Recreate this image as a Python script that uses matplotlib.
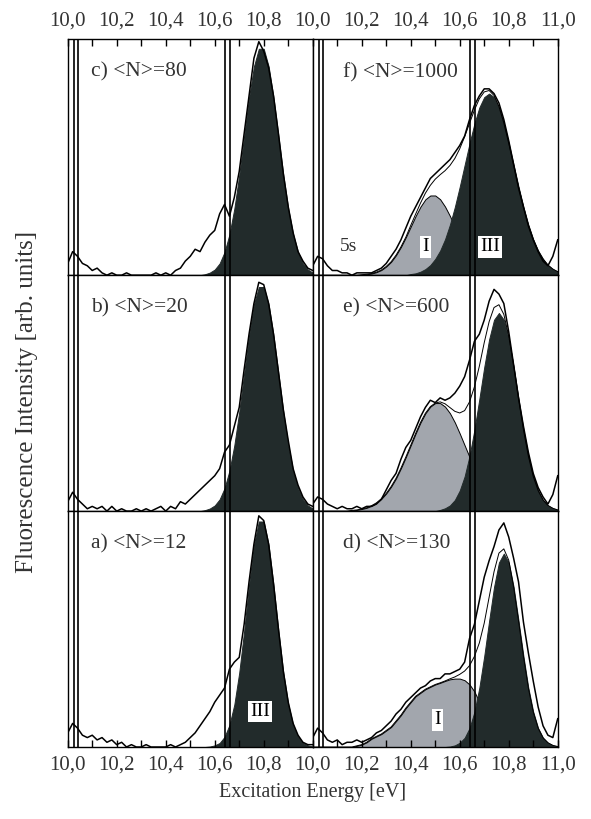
import matplotlib
matplotlib.use("Agg")
import matplotlib.pyplot as plt

plt.rcParams['font.family'] = ['Liberation Serif', 'DejaVu Serif']

# excitation energy grid [eV]
energy = [10.00, 10.02, 10.04, 10.06, 10.08, 10.10, 10.12, 10.14, 10.16, 10.18,
          10.20, 10.22, 10.24, 10.26, 10.28, 10.30, 10.32, 10.34, 10.36, 10.38,
          10.40, 10.42, 10.44, 10.46, 10.48, 10.50, 10.52, 10.54, 10.56, 10.58,
          10.60, 10.62, 10.64, 10.66, 10.68, 10.70, 10.72, 10.74, 10.76, 10.78,
          10.80, 10.82, 10.84, 10.86, 10.88, 10.90, 10.92, 10.94, 10.96, 10.98, 11.00]

# narrow atomic lines (left edge, right edge) [eV]
spikes = [(10.024, 10.040), (10.642, 10.663)]

# left column: <N> = 80, 20, 12
c_meas = [.05, .10, .08, .05, .04, .02, .03, .01, .00, .01,
          .00, .00, .01, .00, .00, .00, .00, .00, .01, .00,
          .01, .00, .02, .03, .06, .08, .11, .10, .14, .17,
          .19, .26, .30, .25, .33, .44, .60, .76, .92, .99,
          .95, .88, .76, .60, .43, .29, .18, .10, .06, .03, .02]
c_III = [0] * 28 + [.004, .011, .024, .050, .098, .173, .282, .424, .589, .752, .885, .960,
                    .960, .885, .752, .589, .424, .282, .173, .098, .050, .024, .011]

b_meas = [.04, .08, .05, .03, .01, .02, .01, .02, .00, .02,
          .00, .01, .00, .00, .01, .00, .01, .00, .01, .02,
          .00, .02, .01, .04, .03, .05, .07, .09, .11, .13,
          .15, .18, .25, .28, .36, .44, .60, .75, .88, .97,
          .96, .88, .75, .59, .43, .30, .18, .11, .06, .03, .02]
b_III = [0] * 28 + [.004, .011, .024, .050, .097, .171, .279, .420, .583, .744, .876, .950,
                    .950, .876, .744, .583, .420, .279, .171, .097, .050, .024, .011]

a_meas = [.06, .10, .08, .05, .04, .05, .03, .04, .02, .03,
          .01, .02, .00, .01, .00, .00, .01, .00, .00, .00,
          .00, .01, .00, .01, .02, .04, .06, .09, .12, .15,
          .19, .22, .25, .33, .36, .38, .52, .70, .86, .98,
          .96, .86, .69, .50, .32, .19, .10, .05, .02, .01, .01]
a_III = [0] * 29 + [.002, .007, .017, .043, .093, .180, .315, .491, .686, .856, .956,
                    .956, .856, .686, .491, .315, .180, .093, .043, .017, .007, .002]

# right column: <N> = 1000, 600, 130
f_meas = [.04, .08, .07, .04, .02, .02, .01, .01, .00, .01,
          .01, .01, .01, .02, .03, .05, .08, .11, .15, .20,
          .25, .29, .33, .37, .41, .43, .45, .47, .49, .52,
          .55, .59, .66, .72, .76, .79, .79, .77, .73, .66,
          .57, .47, .37, .29, .21, .15, .10, .06, .04, .08, .15]
f_I = [0] * 10 + [.002, .004, .007, .013, .022, .037, .057, .085, .120, .161,
                  .206, .251, .291, .322, .338, .338, .322, .291, .251, .206,
                  .161, .120, .085, .057, .037, .022, .013, .007, .004, .002] + [0] * 11
f_III = [0] * 20 + [.005, .008, .015, .026, .043, .069, .104, .152, .214, .289,
                    .375, .467, .559, .643, .711, .755, .770, .755, .711, .643,
                    .559, .467, .375, .289, .214, .152, .104, .069, .043, .026, .015]

e_meas = [.03, .06, .05, .03, .02, .01, .02, .01, .01, .02,
          .01, .02, .02, .03, .05, .09, .13, .16, .22, .27,
          .30, .35, .40, .44, .47, .46, .48, .47, .48, .50,
          .53, .57, .64, .72, .75, .81, .89, .94, .92, .88,
          .76, .62, .48, .36, .25, .16, .10, .06, .03, .07, .15]
e_I = [0] * 8 + [.003, .005, .009, .014, .023, .035, .052, .075, .104, .139,
                 .182, .229, .279, .329, .376, .415, .443, .458, .458, .443,
                 .415, .376, .329, .279, .229, .182, .139, .104, .075, .052,
                 .035, .023, .014, .009, .005] + [0] * 8
e_III = [0] * 26 + [.005, .012, .024, .047, .087, .147, .234, .345, .475, .610,
                    .728, .811, .840, .811, .728, .610, .475, .345, .234, .147,
                    .087, .047, .024, .012, .005]

d_meas = [.04, .08, .06, .03, .02, .03, .01, .02, .02, .03,
          .02, .03, .04, .06, .07, .09, .11, .14, .16, .19,
          .21, .23, .25, .26, .28, .29, .29, .31, .31, .32,
          .33, .36, .46, .52, .62, .72, .79, .85, .92, .95,
          .89, .80, .70, .53, .40, .28, .17, .09, .05, .04, .12]
d_I = [0] * 9 + [.005, .01, .02, .035, .045, .055, .07, .085, .11, .135, .165,
                 .19, .215, .23, .245, .255, .265, .272, .28, .287, .29,
                 .29, .283, .265, .235, .19, .14, .10, .065, .04, .02, .01] + [0] * 10
d_III = [0] * 28 + [.002, .007, .018, .039, .080, .149, .251, .385, .535, .678, .782, .820,
                    .782, .678, .535, .385, .251, .149, .080, .039, .018, .007, .002]

titles = [["c) <N>=80", "f) <N>=1000"],
          ["b) <N>=20", "e) <N>=600"],
          ["a) <N>=12", "d) <N>=130"]]
measured = [[c_meas, f_meas], [b_meas, e_meas], [a_meas, d_meas]]
band_I = [[None, f_I], [None, e_I], [None, d_I]]
band_III = [[c_III, f_III], [b_III, e_III], [a_III, d_III]]

ticks_left = [10.0, 10.2, 10.4, 10.6, 10.8]
labels_left = ['10,0', '10,2', '10,4', '10,6', '10,8']
ticks_right = ticks_left + [11.0]
labels_right = labels_left + ['11,0']
minor_ticks = [10.1, 10.3, 10.5, 10.7, 10.9]

dark = '#222b2b'
grey = '#a2a6ad'
txt = '#333333'

fig, axes = plt.subplots(3, 2, figsize=(5.91, 8.19), dpi=100)
fig.subplots_adjust(left=0.1146, right=0.9437, top=0.952, bottom=0.0879,
                    wspace=0, hspace=0)

for r in range(3):
    for c in range(2):
        ax = axes[r][c]
        comp1 = band_I[r][c]
        comp3 = band_III[r][c]
        if comp1 is not None:
            ax.fill_between(energy, 0, comp1, facecolor=grey, edgecolor='black', lw=0.7)
        ax.fill_between(energy, 0, comp3, facecolor=dark, edgecolor=dark, lw=0.7)
        if comp1 is not None:
            fit = [p + q for p, q in zip(comp1, comp3)]
            ax.plot(energy, fit, color='black', lw=0.7)
        ax.plot(energy, measured[r][c], color='black', lw=1.1)
        for lo, hi in spikes:
            ax.vlines([lo, hi], 0, 1.2, color='black', lw=1.2)

        ax.set_xlim(10.0, 11.0)
        ax.set_ylim(0, 1.0)
        ax.set_yticks([])
        for s in ax.spines.values():
            s.set_linewidth(1.0)

        if c == 0:
            ax.set_xticks(ticks_left, labels_left)
        else:
            ax.set_xticks(ticks_right, labels_right)
        ax.set_xticks(minor_ticks, minor=True)

        if r == 0:
            ax.xaxis.set_ticks_position('top')
            ax.tick_params(axis='x', which='both', direction='in', length=5, width=1,
                           top=True, bottom=False, labeltop=True, labelbottom=False,
                           pad=6, labelsize=15, labelcolor=txt)
        elif r == 2:
            ax.tick_params(axis='x', which='both', direction='in', length=5, width=1,
                           top=False, bottom=True, labeltop=False, labelbottom=True,
                           pad=6, labelsize=15, labelcolor=txt)
        else:
            ax.tick_params(axis='x', which='both', length=0, top=False, bottom=False,
                           labeltop=False, labelbottom=False)

        x0 = 0.095 if c == 0 else 0.124
        ax.text(x0, 0.86, titles[r][c], transform=ax.transAxes, ha='left', va='center',
                fontsize=15.5, color=txt)

box = dict(facecolor='white', edgecolor='none', pad=1.5)
axes[0][1].text(10.46, 0.12, 'I', ha='center', va='center', fontsize=14, bbox=box)
axes[0][1].text(10.724, 0.12, 'III', ha='center', va='center', fontsize=14, bbox=box)
axes[0][1].text(10.11, 0.12, '5s', ha='left', va='center', fontsize=14, color=txt)
axes[2][1].text(10.508, 0.115, 'I', ha='center', va='center', fontsize=14, bbox=box)
axes[2][0].text(10.786, 0.15, 'III', ha='center', va='center', fontsize=14, bbox=box)

fig.text(0.529, 1 - 793 / 819, 'Excitation Energy [eV]', ha='center', va='center',
         fontsize=14.5, color=txt)
fig.text(27 / 591, 1 - 402 / 819, 'Fluorescence Intensity [arb. units]', ha='center',
         va='center', rotation=90, fontsize=18, color=txt)

fig.savefig('out.png', dpi=100, facecolor='white')
